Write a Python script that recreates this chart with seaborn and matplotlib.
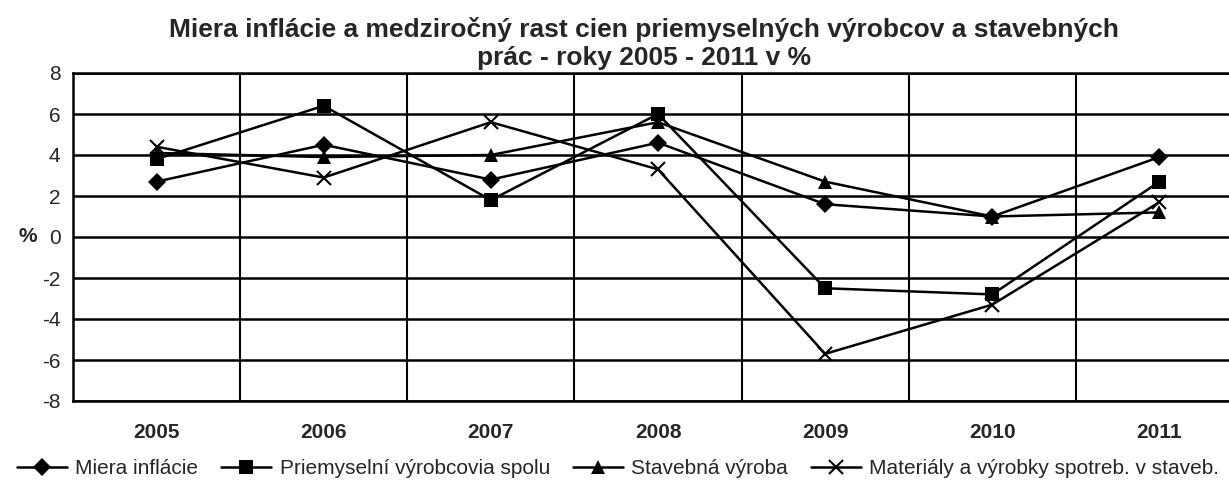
import numpy as np
import pandas as pd
import seaborn as sns
from matplotlib import pyplot as plt

years = ["2005", "2006", "2007", "2008", "2009", "2010", "2011"]
inflacia = [2.7, 4.5, 2.8, 4.6, 1.6, 1.0, 3.9]
priemysel = [3.8, 6.4, 1.8, 6.0, -2.5, -2.8, 2.7]
stavebna = [4.1, 3.9, 4.0, 5.6, 2.7, 1.0, 1.2]
materialy = [4.4, 2.9, 5.6, 3.3, -5.7, -3.3, 1.7]

names = ["Miera inflácie", "Priemyselní výrobcovia spolu", "Stavebná výroba",
         "Materiály a výrobky spotreb. v staveb."]
markers = ["D", "s", "^", "x"]
msizes = [9, 10, 10, 10]

sns.set_style("white")
plt.rcParams['font.family'] = ['Liberation Sans', 'DejaVu Sans']

fig = plt.figure(figsize=(12.29, 4.93), dpi=100)
ax = fig.add_axes([73 / 1229, 92 / 493, 1170 / 1229, 328 / 493])

pos = np.arange(len(years))
for name, vals, m, ms in zip(names, [inflacia, priemysel, stavebna, materialy], markers, msizes):
    df = pd.DataFrame({"pos": pos, "value": vals})
    sns.lineplot(data=df, x="pos", y="value", ax=ax, color="black", lw=1.8,
                 marker=m, markersize=ms, markeredgewidth=1.5 if m == "x" else 0,
                 markeredgecolor="black", label=name, legend=False)

ax.set_xlim(-0.5, len(years) - 0.5)
ax.set_ylim(-8, 8)
ax.set_yticks(np.arange(-8, 9, 2))
ax.set_yticklabels([str(v) for v in range(-8, 9, 2)], fontsize=15)
ax.set_xticks(pos)
ax.set_xticklabels(years, fontsize=15, fontweight="bold")
ax.set_xticks(np.arange(-0.5, len(years), 1), minor=True)
ax.tick_params(axis="x", which="major", length=0, pad=16)
ax.tick_params(axis="x", which="minor", length=6, width=1.5, direction="out", color="black")
ax.tick_params(axis="y", length=6, width=1.5, direction="out", color="black", pad=3)
ax.set_xlabel("")
ax.set_ylabel("%", fontsize=15, fontweight="bold", rotation=0, labelpad=10, va="center")

ax.grid(axis="y", color="black", lw=1.8)
ax.grid(axis="x", which="minor", color="black", lw=1.5)
ax.set_axisbelow(True)
for s in ax.spines.values():
    s.set_color("black")
    s.set_linewidth(1.8)

fig.suptitle("Miera inflácie a medziročný rast cien priemyselných výrobcov a stavebných\nprác - roky 2005 - 2011 v %",
             x=0.524, y=0.966, fontsize=19, fontweight="bold", linespacing=1.2)

handles, labels = ax.get_legend_handles_labels()
fig.legend(handles, labels, loc="center", bbox_to_anchor=(0.503, 0.05), ncol=4, frameon=False,
           fontsize=15, handlelength=2.4, handletextpad=0.4, columnspacing=1.1)

fig.savefig("out.png", dpi=100)
